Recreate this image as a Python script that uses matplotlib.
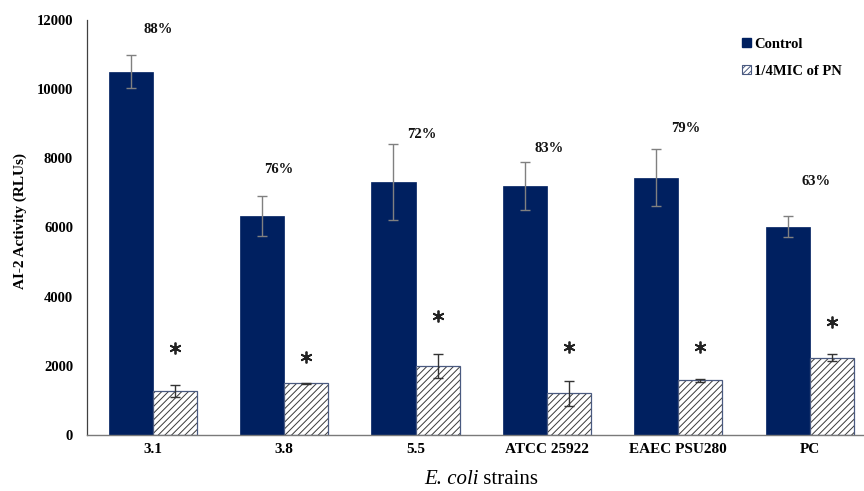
import matplotlib
matplotlib.use("Agg")
import matplotlib.pyplot as plt
from matplotlib.patches import Patch
import numpy as np

# ---------------- data ----------------
strains = ["3.1", "3.8", "5.5", "ATCC 25922", "EAEC PSU280", "PC"]
control = [10506, 6324, 7325, 7210, 7441, 6024]
control_err = [480, 580, 1095, 694, 815, 298]
treated = [1282, 1495, 1995, 1205, 1581, 2236]
treated_err = [170, 15, 357, 360, 35, 110]
pct_labels = ["88%", "76%", "72%", "83%", "79%", "63%"]
pct_x_offset = [0.038, -0.042, 0.046, 0.02, 0.06, 0.05]
pct_y = [11711, 7663, 8675, 8270, 8850, 7325]
star_y = [2516, 2256, 3441, 2545, 2545, 3276]
yticks = [0, 2000, 4000, 6000, 8000, 10000, 12000]

# ---------------- style ----------------
plt.rcParams["font.family"] = ["Liberation Serif", "DejaVu Serif"]
plt.rcParams["hatch.linewidth"] = 0.7
plt.rcParams["hatch.color"] = "#3a3a3a"

navy = "#002060"
edge_blue = "#4a5a80"
hatch_col = "#3a3a3a"

W, H = 864, 491
fig = plt.figure(figsize=(W / 100, H / 100), dpi=100)
left_px, right_px, top_px, bot_px = 87, 864, 20, 435
ax = fig.add_axes([left_px / W, 1 - bot_px / H, (right_px - left_px) / W, (bot_px - top_px) / H])

x = np.arange(len(strains))
bw = 0.335

ax.bar(x - bw / 2, control, width=bw, color=navy, edgecolor=navy, linewidth=0.5, zorder=2)
ax.errorbar(x - bw / 2, control, yerr=control_err, fmt="none", ecolor="#808080",
            elinewidth=1.0, capsize=3.5, capthick=1.0, zorder=3)

ax.bar(x + bw / 2, treated, width=bw, color="white", edgecolor=hatch_col, linewidth=0,
       hatch="/////", zorder=2)
ax.bar(x + bw / 2, treated, width=bw, color="none", edgecolor=edge_blue, linewidth=0.9, zorder=2.5)
ax.errorbar(x + bw / 2, treated, yerr=treated_err, fmt="none", ecolor="#333333",
            elinewidth=1.0, capsize=3.5, capthick=1.0, zorder=3)

# asterisks
ax.plot(x + bw / 2, star_y, linestyle="none", marker=(6, 2, 0), markersize=8.5,
        markeredgewidth=1.3, color="#222222", zorder=4)

# percentage labels
for xi, off, yy, lab in zip(x, pct_x_offset, pct_y, pct_labels):
    ax.text(xi + off, yy, lab, ha="center", va="center", fontsize=10.5,
            fontweight="bold", color="#111111")

ax.set_xlim(-0.5, -0.5 + (right_px - left_px) / 131.4)
ax.set_ylim(0, 12000)
ax.set_yticks(yticks)
ax.set_yticklabels([str(v) for v in yticks], fontsize=10.5, fontweight="bold")
ax.set_xticks(x)
ax.set_xticklabels(strains, fontsize=11, fontweight="bold")
ax.tick_params(axis="y", length=0, pad=10)
ax.tick_params(axis="x", length=0, pad=6)

for s in ["top", "right"]:
    ax.spines[s].set_visible(False)
ax.spines["left"].set_color("#404040")
ax.spines["left"].set_linewidth(0.9)
ax.spines["bottom"].set_color("#7a7a7a")
ax.spines["bottom"].set_linewidth(1.0)

fig.text(20 / W, 1 - 221 / H, "AI-2 Activity (RLUs)", rotation=90, ha="center",
         va="center", fontsize=11, fontweight="bold")

# x-axis title: italic genus/species + regular word, centred as one line
cx, cy = 481, 480
t1 = fig.text(0, 1 - cy / H, "E. coli", fontsize=15, style="italic", ha="left", va="center")
t2 = fig.text(0, 1 - cy / H, " strains", fontsize=15, ha="left", va="center")
fig.canvas.draw()
r = fig.canvas.get_renderer()
w1 = t1.get_window_extent(r).width
w2 = t2.get_window_extent(r).width
x0 = cx - (w1 + w2) / 2
t1.set_x(x0 / W)
t2.set_x((x0 + w1) / W)

handles = [Patch(facecolor=navy, edgecolor=navy),
           Patch(facecolor="white", edgecolor=edge_blue, hatch="//////", linewidth=0.8)]
leg = fig.legend(handles, ["Control", "1/4MIC of PN"], loc="upper left",
                 bbox_to_anchor=(742 / W, 1 - 38 / H), frameon=False,
                 prop={"weight": "bold", "size": 10.5}, handlelength=0.6,
                 handleheight=0.6, handletextpad=0.25, labelspacing=0.95,
                 borderpad=0, borderaxespad=0)

fig.savefig("out.png", dpi=100)
